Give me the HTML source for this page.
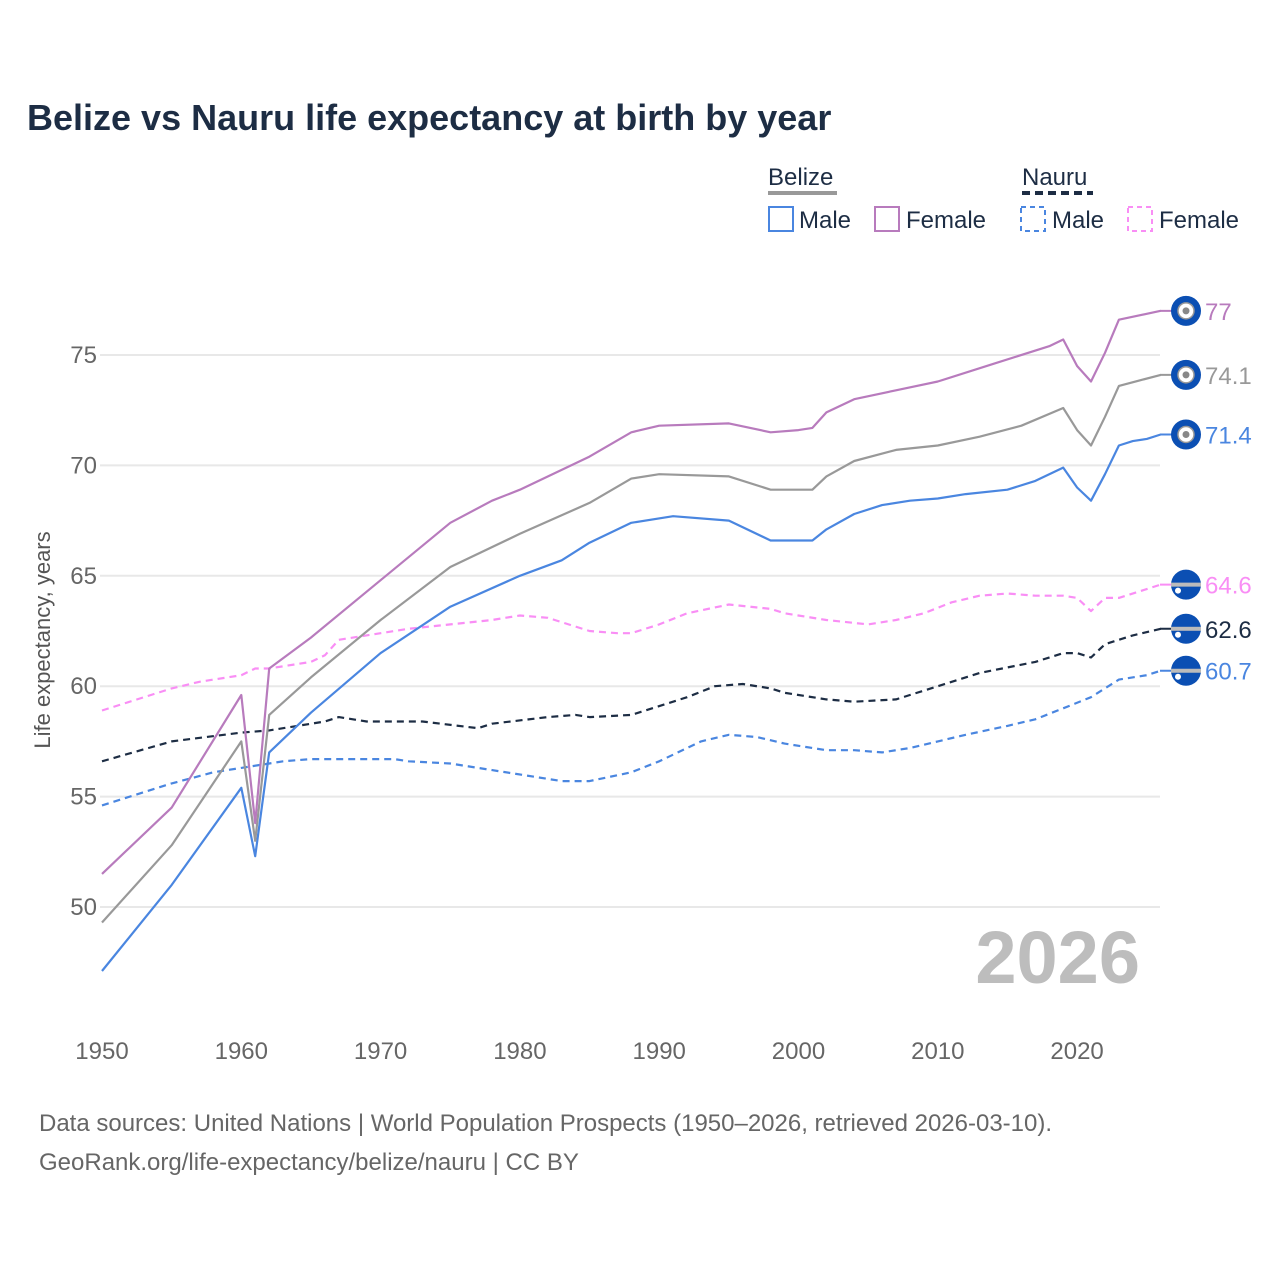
<!DOCTYPE html>
<html><head><meta charset="utf-8">
<style>
body{margin:0;background:#fff;font-family:"Liberation Sans",sans-serif;}
svg{display:block}
</style></head>
<body>
<svg id="chart" width="1280" height="1280" viewBox="0 0 1280 1280">
<text x="27" y="130" font-size="36" font-weight="bold" fill="#1d2d44">Belize vs Nauru life expectancy at birth by year</text>
<g>
 <text x="768" y="185" font-size="24" fill="#1d2d44">Belize</text>
 <line x1="768" y1="193" x2="837" y2="193" stroke="#999" stroke-width="4"/>
 <text x="1022" y="185" font-size="24" fill="#1d2d44">Nauru</text>
 <line x1="1022" y1="193" x2="1093" y2="193" stroke="#1d2d44" stroke-width="4" stroke-dasharray="8,5"/>
 <g><rect x="769" y="207" width="24" height="24" fill="none" stroke="#4a86e0" stroke-width="2"/><text x="799" y="228" font-size="24" fill="#1d2d44">Male</text></g>
 <g><rect x="875" y="207" width="24" height="24" fill="none" stroke="#b87bbd" stroke-width="2"/><text x="906" y="228" font-size="24" fill="#1d2d44">Female</text></g>
 <g><rect x="1021" y="207" width="24" height="24" fill="none" stroke="#4a86e0" stroke-width="2" stroke-dasharray="5,4"/><text x="1052" y="228" font-size="24" fill="#1d2d44">Male</text></g>
 <g><rect x="1128" y="207" width="24" height="24" fill="none" stroke="#f98ef5" stroke-width="2" stroke-dasharray="5,4"/><text x="1159" y="228" font-size="24" fill="#1d2d44">Female</text></g>
</g>
<g id="grid"></g>
<g id="yticks"></g>
<g id="xticks"></g>
<text transform="translate(50,640) rotate(-90)" text-anchor="middle" font-size="22" fill="#555">Life expectancy, years</text>
<text x="1140" y="983" text-anchor="end" font-size="74" font-weight="bold" fill="#bdbdbd">2026</text>
<g id="series"></g>
<g id="ends"></g>
<text x="39" y="1131" font-size="24" fill="#666">Data sources: United Nations | World Population Prospects (1950–2026, retrieved 2026-03-10).</text>
<text x="39" y="1170" font-size="24" fill="#666">GeoRank.org/life-expectancy/belize/nauru | CC BY</text>
</svg>
<script>
const yTicks=[50,55,60,65,70,75];
const xTicks=[1950,1960,1970,1980,1990,2000,2010,2020];
const bzMaleYears=[1950,1955,1960,1961,1962,1965,1970,1975,1980,1983,1985,1988,1991,1995,1998,2001,2002,2004,2006,2008,2010,2012,2015,2017,2019,2020,2021,2022,2023,2024,2025,2026];
const bzMaleVals=[47.1,51.0,55.4,52.3,57.0,58.8,61.5,63.6,65.0,65.7,66.5,67.4,67.7,67.5,66.6,66.6,67.1,67.8,68.2,68.4,68.5,68.7,68.9,69.3,69.9,69.0,68.4,69.6,70.9,71.1,71.2,71.4];
const bzTotalYears=[1950,1955,1960,1961,1962,1965,1970,1975,1980,1985,1988,1990,1995,1998,2000,2001,2002,2004,2007,2010,2013,2016,2019,2020,2021,2022,2023,2026];
const bzTotalVals=[49.3,52.8,57.5,53.0,58.7,60.4,63.0,65.4,66.9,68.3,69.4,69.6,69.5,68.9,68.9,68.9,69.5,70.2,70.7,70.9,71.3,71.8,72.6,71.6,70.9,72.2,73.6,74.1];
const bzFemaleYears=[1950,1955,1960,1961,1962,1965,1970,1975,1978,1980,1985,1988,1990,1995,1998,2000,2001,2002,2004,2007,2010,2014,2018,2019,2020,2021,2022,2023,2026];
const bzFemaleVals=[51.5,54.5,59.6,53.8,60.8,62.2,64.8,67.4,68.4,68.9,70.4,71.5,71.8,71.9,71.5,71.6,71.7,72.4,73.0,73.4,73.8,74.6,75.4,75.7,74.5,73.8,75.1,76.6,77.0];
const nrTotalYears=[1950,1955,1960,1962,1966,1967,1969,1973,1977,1978,1982,1984,1985,1988,1992,1994,1996,1998,1999,2002,2004,2007,2010,2013,2017,2019,2020,2021,2022,2024,2026];
const nrTotalVals=[56.6,57.5,57.9,58.0,58.4,58.6,58.4,58.4,58.1,58.3,58.6,58.7,58.6,58.7,59.5,60.0,60.1,59.9,59.7,59.4,59.3,59.4,60.0,60.6,61.1,61.5,61.5,61.3,61.9,62.3,62.6];
const nrMaleYears=[1950,1955,1958,1960,1963,1965,1971,1972,1975,1978,1983,1985,1988,1990,1993,1995,1997,1999,2002,2004,2006,2008,2010,2012,2015,2017,2019,2021,2023,2025,2026];
const nrMaleVals=[54.6,55.6,56.1,56.3,56.6,56.7,56.7,56.6,56.5,56.2,55.7,55.7,56.1,56.6,57.5,57.8,57.7,57.4,57.1,57.1,57.0,57.2,57.5,57.8,58.2,58.5,59.0,59.5,60.3,60.5,60.7];
const nrFemaleYears=[1950,1955,1957,1960,1961,1962,1965,1966,1967,1970,1972,1975,1978,1980,1982,1985,1987,1988,1990,1992,1995,1998,1999,2002,2005,2007,2009,2011,2013,2015,2017,2019,2020,2021,2022,2023,2026];
const nrFemaleVals=[58.9,59.9,60.2,60.5,60.8,60.8,61.1,61.4,62.1,62.4,62.6,62.8,63.0,63.2,63.1,62.5,62.4,62.4,62.8,63.3,63.7,63.5,63.3,63.0,62.8,63.0,63.3,63.8,64.1,64.2,64.1,64.1,64.0,63.4,64.0,64.0,64.6];
const endLabels=["77","74.1","71.4","64.6","62.6","60.7"];

const NS="http://www.w3.org/2000/svg";
const X=yr=>102+(yr-1950)*13.93;
const Y=v=>907-(v-50)*22.08;
function mk(tag,attrs,parent){const e=document.createElementNS(NS,tag);for(const k in attrs)e.setAttribute(k,attrs[k]);parent.appendChild(e);return e;}
const grid=document.getElementById('grid'),yt=document.getElementById('yticks'),xt=document.getElementById('xticks');
yTicks.forEach(v=>{
 const l=mk('line',{x1:100,x2:1160,y1:Y(v),y2:Y(v),stroke:'#e8e8e8','stroke-width':2},grid);
 
 
 const t=mk('text',{x:97,y:Y(v)+8,'text-anchor':'end','font-size':24,fill:'#666'},yt);
 t.textContent=v;
 
 
});
xTicks.forEach(v=>{
 const t=mk('text',{x:X(v),y:1059,'text-anchor':'middle','font-size':24,fill:'#666'},xt);
 t.textContent=v;
 
 
});
const ser=document.getElementById('series'),ends=document.getElementById('ends');
const defs=[
 [nrFemaleYears,nrFemaleVals,'#f98ef5','7,5','nauru-female',false,'#f98ef5',3],
 [nrTotalYears,nrTotalVals,'#1d2d44','7,5','nauru-total',false,'#1d2d44',4],
 [nrMaleYears,nrMaleVals,'#4a86e0','7,5','nauru-male',false,'#4a86e0',5],
 [bzMaleYears,bzMaleVals,'#4a86e0','','belize-male',true,'#4a86e0',2],
 [bzTotalYears,bzTotalVals,'#999999','','belize-total',true,'#999',1],
 [bzFemaleYears,bzFemaleVals,'#b87bbd','','belize-female',true,'#b87bbd',0],
];
defs.forEach(d=>{
 const [ys,vs,col,dash,name,belize,lc,li]=d;
 const p=mk('path',{d:ys.map((y,i)=>(i?'L':'M')+X(y).toFixed(1)+','+Y(vs[i]).toFixed(1)).join(''),fill:'none',stroke:col,'stroke-width':2.2,'stroke-dasharray':dash,'stroke-linejoin':'round'},ser);
 
 
 const last=vs[vs.length-1],cy=Y(last),cx=1186;
 const g=mk('g',{},ends);
 
 
 mk('line',{x1:1160,x2:cx,y1:cy,y2:cy,stroke:col,'stroke-width':2},g);
 mk('circle',{cx:cx,cy:cy,r:15,fill:'#0b4fb3'},g);
 if(belize){mk('circle',{cx:cx,cy:cy,r:8,fill:'#fff',stroke:'#999','stroke-width':1.5},g);mk('circle',{cx:cx,cy:cy,r:3.5,fill:'#888'},g);}
 else{mk('rect',{x:cx-15,y:cy-2,width:30,height:4,fill:'#bbb'},g);mk('circle',{cx:cx-8,cy:cy+6,r:3,fill:'#fff'},g);}
 const t=mk('text',{x:1205,y:cy+9,'font-size':24,fill:lc},g);
 t.textContent=endLabels[li];
});
</script>
</body></html>
